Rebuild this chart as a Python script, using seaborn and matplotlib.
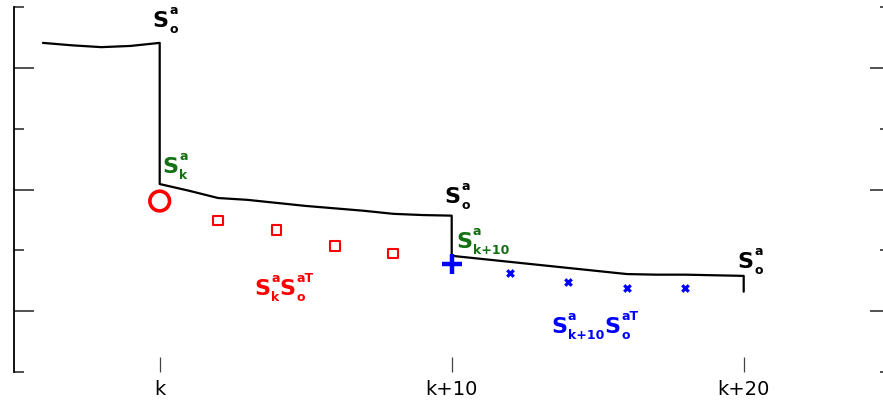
import numpy as np
import pandas as pd
import matplotlib
matplotlib.use("Agg")
import matplotlib.pyplot as plt
import seaborn as sns

# step curve of S^a over time (k = 0)
curve_x = [-4, -3, -2, -1, 0,
           0, 1, 2, 3, 4, 5, 6, 7, 8, 9, 10,
           10, 11, 12, 13, 14, 15, 16, 17, 18, 19, 20,
           20]
curve_y = [5.41, 5.37, 5.34, 5.36, 5.41,
           3.09, 2.98, 2.86, 2.83, 2.78, 2.73, 2.69, 2.65, 2.60, 2.58, 2.57,
           1.91, 1.86, 1.81, 1.76, 1.71, 1.66, 1.61, 1.60, 1.60, 1.59, 1.58,
           1.32]

circle_x = [0]
circle_y = [2.81]
square_x = [2, 4, 6, 8]
square_y = [2.49, 2.33, 2.07, 1.95]
plus_x = [10]
plus_y = [1.78]
cross_x = [12, 14, 16, 18]
cross_y = [1.63, 1.48, 1.38, 1.38]

xtick_pos = [0, 10, 20]
xtick_labels = ["k", "k+10", "k+20"]

GREEN = "#137013"

sns.set_style("white")
plt.rcParams["font.family"] = ["DejaVu Sans"]

fig = plt.figure(figsize=(8.83, 4.02), dpi=100)
ax = fig.add_axes([13.7 / 883, 29 / 402, 876 / 883, 365 / 402])

df = pd.DataFrame({"x": curve_x, "y": curve_y})
sns.lineplot(data=df, x="x", y="y", sort=False, estimator=None,
             color="black", linewidth=1.6, ax=ax)

sns.scatterplot(x=circle_x, y=circle_y, marker="o", s=200, facecolor="none",
                edgecolor="red", linewidth=2.6, ax=ax, zorder=3)
sns.scatterplot(x=square_x, y=square_y, marker="s", s=48, facecolor="none",
                edgecolor="red", linewidth=1.5, ax=ax, zorder=3)
sns.scatterplot(x=plus_x, y=plus_y, marker="+", s=220, color="blue",
                linewidth=3.2, ax=ax, zorder=3)
sns.scatterplot(x=cross_x, y=cross_y, marker="x", s=22, color="blue",
                linewidth=2.3, ax=ax, zorder=3)


def s_term(s, y, sub, sup, color):
    # stacked superscript / subscript right after a big bold S
    kw = dict(color=color, fontweight="bold", va="baseline", ha="left",
              textcoords="offset pixels", fontsize=9)
    ax.annotate(sup, xy=(1, y), xycoords=(s, "data"), xytext=(0.5, 13), **kw)
    return ax.annotate(sub, xy=(1, y), xycoords=(s, "data"), xytext=(0.5, -6), **kw)


def s_label(x, y, color, terms):
    s = ax.text(x, y, "S", fontsize=16, fontweight="bold", color=color,
                va="baseline", ha="left")
    last = s_term(s, y, terms[0][0], terms[0][1], color)
    for sub, sup in terms[1:]:
        s2 = ax.annotate("S", xy=(1, y), xycoords=(last, "data"), xytext=(0.5, 0),
                         textcoords="offset pixels", fontsize=16,
                         fontweight="bold", color=color, va="baseline", ha="left")
        last = s_term(s2, y, sub, sup, color)


s_label(-0.24, 5.68, "black", [("o", "a")])
s_label(9.76, 2.80, "black", [("o", "a")])
s_label(19.80, 1.72, "black", [("o", "a")])
s_label(0.10, 3.29, GREEN, [("k", "a")])
s_label(10.16, 2.05, GREEN, [("k+10", "a")])
s_label(3.25, 1.28, "red", [("k", "a"), ("o", "aT")])
s_label(13.41, 0.65, "blue", [("k+10", "a"), ("o", "aT")])

ax.set_xlim(-5, 25)
ax.set_ylim(0, 6)
ax.set_xlabel("")
ax.set_ylabel("")

ax.set_xticks(xtick_pos)
ax.set_xticklabels(xtick_labels, fontsize=14, color="black")
ax.set_yticks([1, 3, 5])
ax.set_yticks([0, 2, 4, 6], minor=True)
ax.set_yticklabels([])

for side in ["top", "bottom", "right"]:
    ax.spines[side].set_visible(False)
ax.spines["left"].set_color("black")
ax.spines["left"].set_linewidth(1.3)

ax.tick_params(axis="y", which="major", direction="in", left=True, right=True,
               length=14.4, width=1.2, color="#333333")
ax.tick_params(axis="y", which="minor", direction="in", left=True, right=True,
               length=7.2, width=1.2, color="#333333")
ax.tick_params(axis="x", which="major", direction="in", bottom=True,
               length=10.8, width=0.9, color="#444444", pad=5)

fig.savefig("out.png", dpi=100)
